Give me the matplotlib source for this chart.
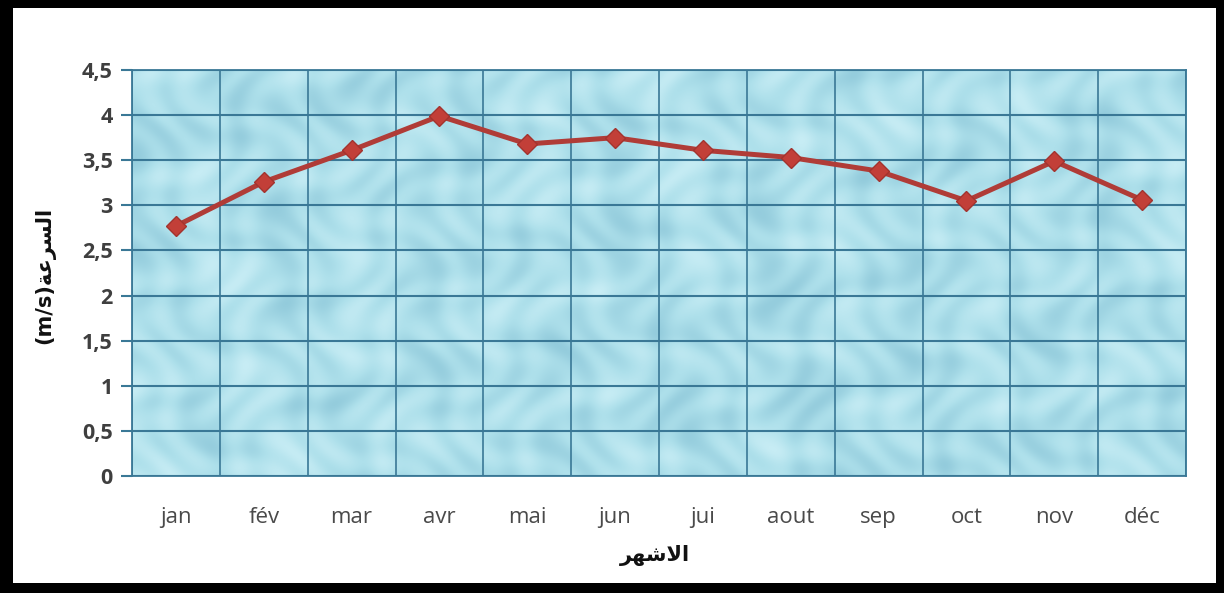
import numpy as np
import matplotlib
matplotlib.use("Agg")
import matplotlib.pyplot as plt
from matplotlib.patches import Rectangle

months = ["jan", "fév", "mar", "avr", "mai", "jun", "jui", "aout", "sep", "oct", "nov", "déc"]
speed = [2.77, 3.26, 3.61, 3.99, 3.68, 3.75, 3.61, 3.53, 3.38, 3.05, 3.49, 3.06]
yticks = [0, 0.5, 1, 1.5, 2, 2.5, 3, 3.5, 4, 4.5]
ytick_labels = ["0", "0,5", "1", "1,5", "2", "2,5", "3", "3,5", "4", "4,5"]

# Arabic labels (pre-shaped presentation forms, visual order)
ylabel_text = "(m/s)\uFE94\uFECB\uFEAE\uFEB4\uFEDF\uFE8D"   # السرعة(m/s)
xlabel_text = "\uFEAE\uFEEC\uFEB7\uFEFB\uFE8D"               # الاشهر

fig = plt.figure(figsize=(12.24, 5.93), dpi=100)
fig.patch.set_facecolor("white")
ax = fig.add_axes([132/1224, 117/593, (1186-132)/1224, (476-70)/593])

# water-drop like texture (decorative background)
H, W = 300, 800
yy, xx = np.mgrid[0:H, 0:W]
t = (0.5 * np.sin(xx / 9.0 + np.sin(yy / 13.0) * 2.0) * np.sin(yy / 11.0 + np.cos(xx / 17.0) * 2.0)
     + 0.3 * np.sin(xx / 23.0 + yy / 31.0) * np.cos(yy / 19.0 - xx / 41.0))
t = np.clip(t, -1, 1)
base = np.array([174, 224, 235]) / 255.0
dark = np.array([140, 198, 216]) / 255.0
light = np.array([206, 240, 247]) / 255.0
pos = np.clip(t, 0, 1)[..., None]
neg = np.clip(-t, 0, 1)[..., None]
img = base * (1 - pos - neg) + light * pos + dark * neg
ax.imshow(img, extent=[0, 1, 0, 1], transform=ax.transAxes, aspect="auto", zorder=0, interpolation="bilinear")

x = np.arange(len(months))
ax.plot(x, speed, color="#b03c37", linewidth=3.6, marker="D", markersize=10,
        markerfacecolor="#c23f38", markeredgecolor="#a3332e", zorder=5)

grid_c = "#3a7896"
ax.set_xlim(-0.5, len(months) - 0.5)
ax.set_ylim(0, 4.5)
ax.set_yticks(yticks)
ax.set_yticklabels(ytick_labels)
ax.set_xticks(x)
ax.set_xticklabels(months)
ax.set_xticks(np.arange(-0.5, len(months), 1.0), minor=True)
ax.grid(True, axis="y", which="major", color=grid_c, linewidth=1.5, zorder=1)
ax.grid(True, axis="x", which="minor", color=grid_c, linewidth=1.2, zorder=1)
ax.grid(False, axis="x", which="major")
ax.set_axisbelow(False)
for s in ax.spines.values():
    s.set_color(grid_c)
    s.set_linewidth(1.3)

ax.tick_params(axis="y", length=8, width=1.5, color=grid_c, pad=6,
               labelsize=15.5, labelcolor="#3f3f3f")
ax.tick_params(axis="x", which="both", length=0, pad=22, labelsize=16, labelcolor="#4a4a4a")
for lab in ax.get_yticklabels():
    lab.set_fontfamily(["Open Sans", "DejaVu Sans"])
    lab.set_fontweight("bold")
for lab in ax.get_xticklabels():
    lab.set_fontfamily(["Open Sans", "DejaVu Sans"])

fig.text(45/1224, 1 - 275/593, ylabel_text, rotation=90, ha="center", va="center",
         fontsize=15, fontweight="bold", color="#111111", family=["DejaVu Sans"])
fig.text(655/1224, 1 - 555/593, xlabel_text, ha="center", va="center",
         fontsize=15, fontweight="bold", color="#111111", family=["DejaVu Sans"])

# black frame around the figure
for (x0, y0, w, h) in [(0, 0, 13, 593), (1216, 0, 8, 593), (0, 0, 1224, 10), (0, 585, 1224, 8)]:
    fig.patches.append(Rectangle((x0/1224, y0/593), w/1224, h/593, transform=fig.transFigure,
                                 facecolor="black", edgecolor="none", zorder=10))

fig.savefig("out.png", dpi=100, facecolor="white")
